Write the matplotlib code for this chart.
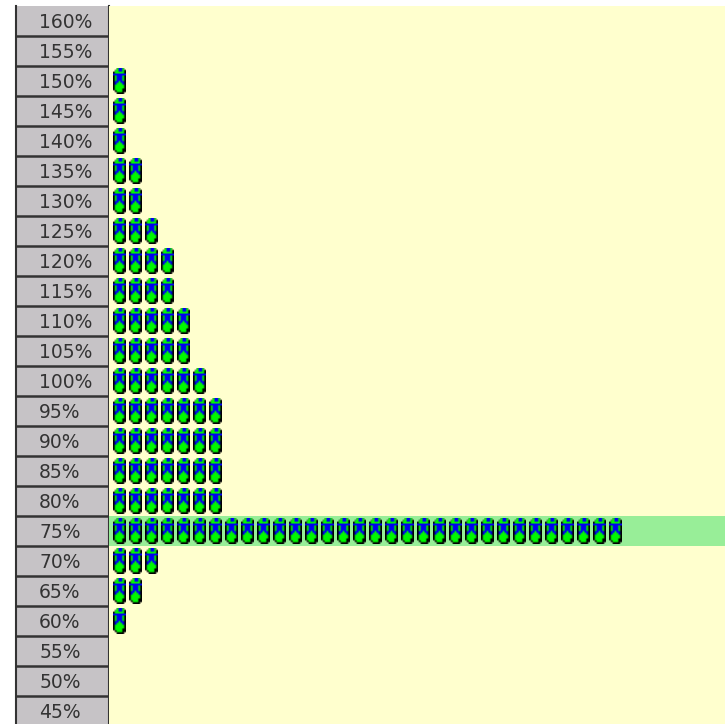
# pictogram chart of counts per percent band
import numpy as np
import matplotlib
matplotlib.use('Agg')
import matplotlib.pyplot as plt
from matplotlib.offsetbox import OffsetImage, AnnotationBbox
from matplotlib.colors import to_rgba

# data
bands = ['160%', '155%', '150%', '145%', '140%', '135%', '130%', '125%',
         '120%', '115%', '110%', '105%', '100%', '95%', '90%', '85%',
         '80%', '75%', '70%', '65%', '60%', '55%', '50%', '45%']
counts = [0, 0, 1, 1, 1, 2, 2, 3, 4, 4, 5, 5, 6, 7, 7, 7, 7, 32, 3, 2, 1, 0, 0, 0]
highlight = '75%'

# small bitmap of the little person icon
icon_rows = ['..GBBG.',
             '.GGBBGK',
             'KGGGGGK',
             'BBBBBBB',
             'KGBBBGK',
             'KGBBBGK',
             'KGBBBGK',
             'KBBGBBK',
             'KBGGGBK',
             'KGGGGGK',
             'KGGGGGK',
             'KGGGGKK',
             '.KGGGKK',
             '..KKKK.']
icon_colors = {'.': (0, 0, 0, 0), 'K': to_rgba('#000000'),
               'G': to_rgba('#00F800'), 'B': to_rgba('#0000F0')}
icon = np.array([[icon_colors[c] for c in row] for row in icon_rows])

W, H = 725.0, 724.0
fig = plt.figure(figsize=(W / 100, H / 100), dpi=100, facecolor='white')

# row 0 starts at y=6, rows are 30 px high, bottom row is cut off
top, row_h = 6.0, 30.0
ylim = (-0.5 + (H - top) / row_h, -0.5)

# left column with the percent labels
ax_lab = fig.add_axes([16 / W, 0, 93 / W, (H - top) / H], facecolor='#C6C3C6')
ax_lab.set_xlim(0, 1)
ax_lab.set_ylim(*ylim)
ax_lab.set_xticks([])
ax_lab.set_yticks([])
for side in ['top', 'bottom']:
    ax_lab.spines[side].set_visible(False)
for side in ['left', 'right']:
    ax_lab.spines[side].set_color('#333333')
    ax_lab.spines[side].set_linewidth(1.5)
for i, b in enumerate(bands):
    ax_lab.annotate(b, (0.25, i), xytext=(0, -1), textcoords='offset pixels',
                    va='center', ha='left', color='#333333',
                    fontsize=13.5, family='DejaVu Sans')
    if i > 0:
        ax_lab.axhline(i - 0.5, color='#333333', lw=1.8)

# main area with the icons
ax = fig.add_axes([109 / W, 0, (W - 109) / W, (H - top) / H], facecolor='#FFFFCE')
ax.set_xlim(-0.625, 37.875)
ax.set_ylim(*ylim)
ax.axis('off')
ax.add_patch(plt.Rectangle((0, 0), 1, 1, transform=ax.transAxes, color='#FFFFCE', zorder=0))
ax.axhspan(bands.index(highlight) - 0.5, bands.index(highlight) + 0.5,
           color='#98EE98', lw=0, zorder=1)

for i, n in enumerate(counts):
    for k in range(n):
        im = OffsetImage(icon, zoom=1.8, dpi_cor=False, interpolation='bilinear')
        ab = AnnotationBbox(im, (k, i), frameon=False, pad=0, zorder=2)
        ax.add_artist(ab)

fig.savefig('out.png', dpi=100)
